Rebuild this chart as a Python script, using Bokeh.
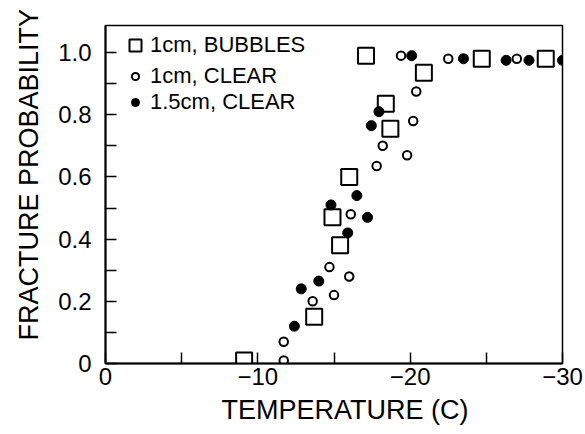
from bokeh.plotting import figure
from bokeh.models import Range1d, FixedTicker, Legend, Title
from bokeh.embed import file_html
from bokeh.resources import INLINE

# 1cm, BUBBLES (open squares)
bub_t = [-9.1, -13.7, -15.4, -14.9, -16.0, -18.4, -18.7, -17.1, -20.9, -24.7, -28.9]
bub_p = [0.01, 0.15, 0.38, 0.47, 0.60, 0.835, 0.755, 0.99, 0.935, 0.98, 0.98]

# 1cm, CLEAR (open circles)
clr1_t = [-11.7, -11.7, -13.6, -15.0, -14.7, -16.0, -16.1, -17.8, -18.2, -19.8, -20.2, -20.4, -19.4, -22.5, -27.0]
clr1_p = [0.01, 0.07, 0.20, 0.22, 0.31, 0.28, 0.48, 0.635, 0.70, 0.67, 0.78, 0.875, 0.99, 0.98, 0.98]

# 1.5cm, CLEAR (filled circles)
clr15_t = [-12.4, -12.85, -14.0, -14.8, -15.9, -16.5, -17.2, -17.45, -17.95, -20.1, -23.5, -26.3, -27.8, -30.0]
clr15_p = [0.12, 0.24, 0.265, 0.51, 0.42, 0.54, 0.47, 0.765, 0.81, 0.99, 0.98, 0.975, 0.975, 0.975]

x_ticks = [0, -10, -20, -30]
x_minor = [-5, -15, -25]
x_labels = ["0", "\u221210", "\u221220", "\u221230"]
y_ticks = [0, 0.2, 0.4, 0.6, 0.8, 1.0]
y_minor = [0.1, 0.3, 0.5, 0.7, 0.9]
y_labels = ["0", "0.2", "0.4", "0.6", "0.8", "1.0"]
x_title = "TEMPERATURE (C)"
y_title = "FRACTURE PROBABILITY"
legend_labels = ["1cm, BUBBLES", "1cm, CLEAR", "1.5cm, CLEAR"]

FONT = "Liberation Sans"

p = figure(width=585, height=434, output_backend="svg", toolbar_location=None,
           x_range=Range1d(0, -30), y_range=Range1d(0, 1.087),
           min_border_left=105, min_border_right=23, min_border_top=25, min_border_bottom=71)
p.grid.visible = False
p.outline_line_color = "black"
p.outline_line_width = 1.5
p.background_fill_color = "white"
p.border_fill_color = "white"

r1 = p.scatter(bub_t, bub_p, marker="square", size=16, fill_color="white",
               line_color="black", line_width=2)
r2 = p.scatter(clr1_t, clr1_p, marker="circle", size=8.5, fill_color="white",
               line_color="black", line_width=2)
r3 = p.scatter(clr15_t, clr15_p, marker="circle", size=10, fill_color="black",
               line_color="black", line_width=1)

for ax in (p.xaxis[0], p.yaxis[0]):
    ax.axis_line_color = "black"
    ax.axis_line_width = 2
    ax.major_tick_in = 11
    ax.major_tick_out = 0
    ax.minor_tick_in = 11
    ax.minor_tick_out = 0
    ax.major_tick_line_width = 1.5
    ax.minor_tick_line_width = 1.5
    ax.major_label_text_font = FONT
    ax.major_label_text_font_size = "24px"
    ax.major_label_text_color = "black"

p.xaxis[0].ticker = FixedTicker(ticks=x_ticks, minor_ticks=x_minor)
p.xaxis[0].major_label_overrides = {t: l for t, l in zip(x_ticks, x_labels)}
p.xaxis[0].major_label_standoff = 4

p.yaxis[0].ticker = FixedTicker(ticks=y_ticks, minor_ticks=y_minor)
p.yaxis[0].major_label_overrides = {t: l for t, l in zip(y_ticks, y_labels)}
p.yaxis[0].major_label_standoff = 14

tx = Title(text=x_title, align="left", offset=116, standoff=11,
           text_font=FONT, text_font_size="27px", text_font_style="normal", text_color="black")
p.add_layout(tx, "below")
ty = Title(text=y_title, align="left", offset=23, standoff=23,
           text_font=FONT, text_font_size="27px", text_font_style="normal", text_color="black")
p.add_layout(ty, "left")

common = dict(padding=0, margin=0, spacing=0, border_line_alpha=0, background_fill_alpha=0,
              label_text_font=FONT, label_text_font_size="22px", label_text_color="black")
leg1 = Legend(items=[(legend_labels[0], [r1])], location=(15, 303),
              glyph_width=30, glyph_height=30, label_height=30, label_standoff=0, **common)
leg2 = Legend(items=[(legend_labels[1], [r2])], location=(21, 274),
              glyph_width=18, glyph_height=26, label_height=26, label_standoff=6, **common)
leg3 = Legend(items=[(legend_labels[2], [r3])], location=(20, 248),
              glyph_width=20, glyph_height=26, label_height=26, label_standoff=5, **common)
for lg in (leg1, leg2, leg3):
    p.add_layout(lg, "center")

open("out.html", "w").write(file_html(p, INLINE))
